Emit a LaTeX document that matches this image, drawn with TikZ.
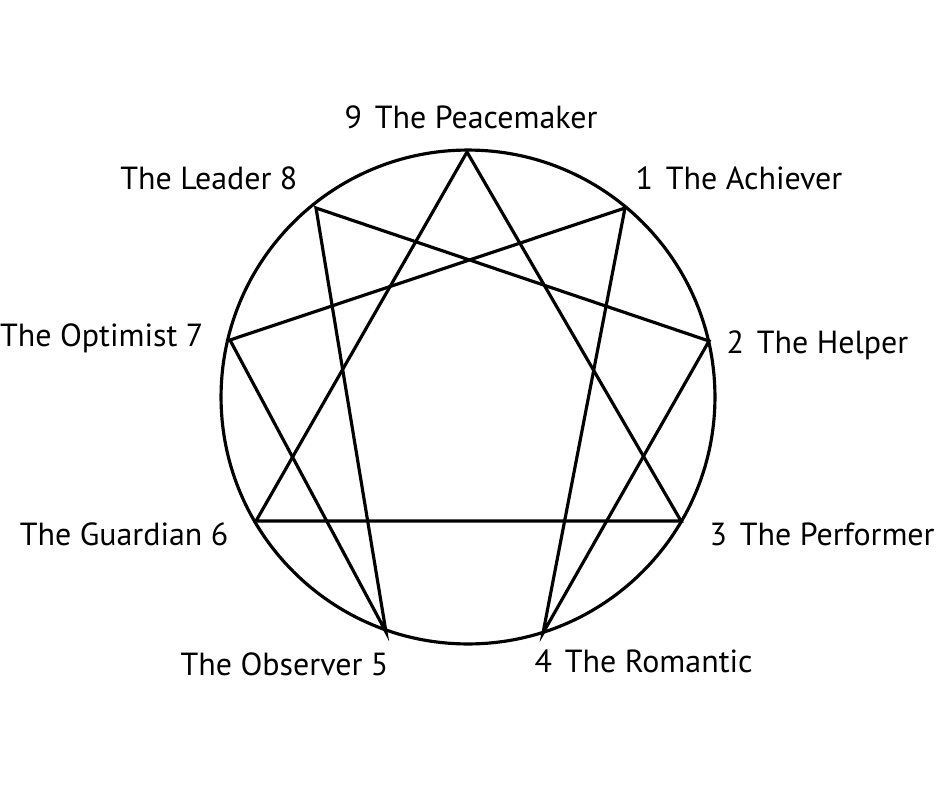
\documentclass[tikz,border=0pt]{standalone}
\usepackage{fontspec}
\setmainfont{PT Sans}
\begin{document}
\begin{tikzpicture}[x=0.02cm,y=-0.02cm,line width=1.8pt,
    every node/.style={inner sep=0pt,font=\fontsize{18.2}{20}\selectfont}]
            \useasboundingbox (0,0) rectangle (940,788);
            \node (c) at (468,397) {};
            \draw (c) circle [radius=4.94cm];
            \coordinate (p9) at (467,152);
            \coordinate (p1) at (625,208);
            \coordinate (p2) at (709,341);
            \coordinate (p3) at (681,521);
            \coordinate (p4) at (543,633);
            \coordinate (p5) at (386,632);
            \coordinate (p6) at (256,521);
            \coordinate (p7) at (230,340);
            \coordinate (p8) at (316,208);
            \draw[line join=miter] (p9)--(p3)--(p6)--cycle;
            \draw[line join=miter] (p1)--(p4)--(p2)--(p8)--(p5)--(p7)--cycle;
            \node[anchor=base west] (l9) at (343,128) {9\hspace{0.4em}The Peacemaker};
            \node[anchor=base west] (l1) at (634,189) {1\hspace{0.4em}The Achiever};
            \node[anchor=base west] (l2) at (725,353) {2\hspace{0.4em}The Helper};
            \node[anchor=base west] (l3) at (708,545) {3\hspace{0.4em}The Performer};
            \node[anchor=base west] (l4) at (533,672) {4\hspace{0.4em}The Romantic};
            \node[anchor=base east] (l5) at (390,675) {The Observer 5};
            \node[anchor=base east] (l6) at (230,545) {The Guardian 6};
            \node[anchor=base east] (l7) at (205,346) {The Optimist 7};
            \node[anchor=base east] (l8) at (299,189) {The Leader 8};
        \end{tikzpicture}
\end{document}
